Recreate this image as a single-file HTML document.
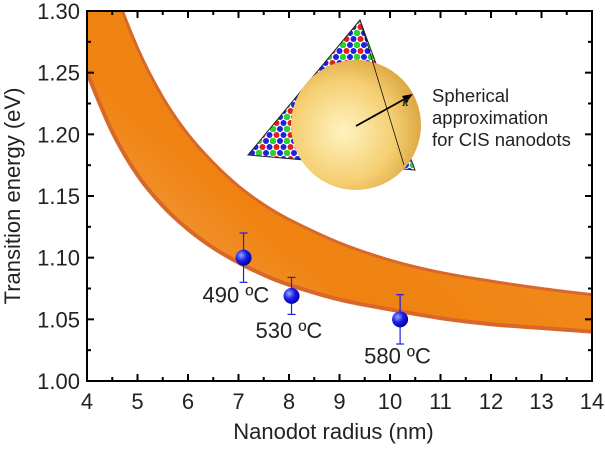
<!DOCTYPE html>
<html><head><meta charset="utf-8"><style>
body{margin:0;background:#fff}
svg text{font-family:"Liberation Sans",sans-serif;fill:#222}
</style></head><body>
<svg id="c" width="605" height="444" viewBox="0 0 605 444">
<defs>
<linearGradient id="bg" x1="0" y1="1" x2="1" y2="0">
<stop offset="0" stop-color="#f5b06a"/><stop offset="0.3" stop-color="#ef8210"/><stop offset="0.6" stop-color="#f08a1c"/><stop offset="1" stop-color="#f6b36a"/>
</linearGradient>
<radialGradient id="sph" cx="0.4" cy="0.55" r="0.65">
<stop offset="0" stop-color="#fff3c0"/><stop offset="0.6" stop-color="#f5cf72"/><stop offset="1" stop-color="#d8a03a"/>
</radialGradient>
<radialGradient id="pt" cx="0.35" cy="0.35" r="0.7">
<stop offset="0" stop-color="#9aa8ff"/><stop offset="0.5" stop-color="#1a1ee8"/><stop offset="1" stop-color="#0000a0"/>
</radialGradient>
<clipPath id="pc"><rect x="87" y="11" width="505" height="370"/></clipPath>
<pattern id="atoms" width="14" height="12" patternUnits="userSpaceOnUse">
<circle cx="3.5" cy="3" r="3" fill="#2020e0"/><circle cx="10.5" cy="3" r="3" fill="#e02020"/>
<circle cx="7" cy="9" r="3.3" fill="#30d030"/><circle cx="0" cy="9" r="3" fill="#2020e0"/><circle cx="14" cy="9" r="3" fill="#2020e0"/>
</pattern>
</defs>
<g id="plot" clip-path="url(#pc)"></g>
<g id="inset">
<polygon points="360,20 248,155 415,170" fill="url(#atoms)" stroke="#222" stroke-width="1"/>
<circle cx="356" cy="125" r="65" fill="url(#sph)"/>
<line x1="360" y1="20" x2="404" y2="165" stroke="#111" stroke-width="0.8"/>
<line x1="356" y1="126" x2="410" y2="96" stroke="#000" stroke-width="1.8"/>
<polygon points="413,94 402,96 406,103" fill="#000"/>
<text x="402" y="106" font-size="10" font-style="italic" font-weight="bold" style="font-family:'Liberation Serif',serif">R</text>
</g>
<text x="432" y="102" font-size="18.5">Spherical</text>
<text x="432" y="124" font-size="18.5">approximation</text>
<text x="432" y="146" font-size="18.5">for CIS nanodots</text>
<g id="axes"></g>
</svg>
<script>
const radii=[4,4.5,5,5.5,6,6.5,7,7.5,8,9,10,11,12,13,14];
const lowerE=[1.250,1.202,1.167,1.142,1.123,1.108,1.096,1.086,1.078,1.066,1.058,1.051,1.046,1.043,1.040];
const upperE=[1.399,1.324,1.270,1.230,1.200,1.177,1.158,1.143,1.131,1.112,1.098,1.088,1.081,1.075,1.070];
const ptR=[7.1,8.05,10.2];
const ptE=[1.100,1.069,1.050];
const ptErr=[0.020,0.015,0.020];
const ptLabels=["490 ºC","530 ºC","580 ºC"];
const xTicks=[4,5,6,7,8,9,10,11,12,13,14];
const yTicks=[1.00,1.05,1.10,1.15,1.20,1.25,1.30];
const X0=87,X1=592,Y0=381,Y1=11;
const sx=v=>X0+(v-4)/(14-4)*(X1-X0);
const sy=v=>Y0-(v-1.0)/(1.30-1.0)*(Y0-Y1);
const NS="http://www.w3.org/2000/svg";
function mk(t,a,p){const e=document.createElementNS(NS,t);for(const k in a)e.setAttribute(k,a[k]);p.appendChild(e);return e;}
function smooth(xs,ys){
  const P=xs.map((x,i)=>[sx(x),sy(ys[i])]);let d="M"+P[0].join(",");
  for(let i=0;i<P.length-1;i++){const p0=P[i-1]||P[i],p1=P[i],p2=P[i+1],p3=P[i+2]||P[i+1];
    d+=" C"+(p1[0]+(p2[0]-p0[0])/6)+","+(p1[1]+(p2[1]-p0[1])/6)+" "+(p2[0]-(p3[0]-p1[0])/6)+","+(p2[1]-(p3[1]-p1[1])/6)+" "+p2[0]+","+p2[1];}
  return d;}
const plot=document.getElementById('plot');
const up=smooth(radii,upperE),lo=smooth(radii,lowerE);
const loRev=smooth(radii.slice().reverse(),lowerE.slice().reverse());
const band=mk('path',{d:up+" L"+sx(14)+","+sy(lowerE[lowerE.length-1])+loRev.replace(/^M[^ ]+/,"")+"Z",fill:"url(#bg)"},plot);


const ul=mk('path',{d:up,fill:"none",stroke:"#d8682a","stroke-width":3},plot);


const ll=mk('path',{d:lo,fill:"none",stroke:"#d8682a","stroke-width":4},plot);


const svg=document.getElementById('c');
const lblOff=[[-41,45],[-36,42],[-36,44]];
ptR.forEach((r,i)=>{
  const g=mk('g',{},svg);
  
  
  const x=sx(r),y=sy(ptE[i]),yt=sy(ptE[i]+ptErr[i]),yb=sy(ptE[i]-ptErr[i]);
  mk('line',{x1:x,y1:yt,x2:x,y2:yb,stroke:"#2020e0","stroke-width":1.2},g);
  mk('line',{x1:x-4,y1:yt,x2:x+4,y2:yt,stroke:"#2020e0","stroke-width":1.2},g);
  mk('line',{x1:x-4,y1:yb,x2:x+4,y2:yb,stroke:"#2020e0","stroke-width":1.2},g);
  mk('circle',{cx:x,cy:y,r:8,fill:"url(#pt)"},g);
  const t=mk('text',{x:x+lblOff[i][0],y:y+lblOff[i][1],"font-size":22},svg);
  
  
  t.textContent=ptLabels[i];
});
const ax=document.getElementById('axes');
const fr=mk('rect',{x:X0,y:Y1,width:X1-X0,height:Y0-Y1,fill:"none",stroke:"#000","stroke-width":2},ax);


xTicks.forEach((v,i)=>{const x=sx(v);
  mk('line',{x1:x,y1:Y0,x2:x,y2:Y0-7,stroke:"#000","stroke-width":2},ax);
  mk('line',{x1:x,y1:Y1,x2:x,y2:Y1+7,stroke:"#000","stroke-width":2},ax);
  if(i<xTicks.length-1){const xm=sx(v+0.5);
    mk('line',{x1:xm,y1:Y0,x2:xm,y2:Y0-4,stroke:"#000","stroke-width":2},ax);
    mk('line',{x1:xm,y1:Y1,x2:xm,y2:Y1+4,stroke:"#000","stroke-width":2},ax);}
  const t=mk('text',{x:x,y:Y0+28,"font-size":22,"text-anchor":"middle"},ax);
  
  
  t.textContent=v;});
yTicks.forEach((v,i)=>{const y=sy(v);
  mk('line',{x1:X0,y1:y,x2:X0+7,y2:y,stroke:"#000","stroke-width":2},ax);
  mk('line',{x1:X1,y1:y,x2:X1-7,y2:y,stroke:"#000","stroke-width":2},ax);
  if(i<yTicks.length-1){const ym=sy(v+0.025);
    mk('line',{x1:X0,y1:ym,x2:X0+4,y2:ym,stroke:"#000","stroke-width":2},ax);
    mk('line',{x1:X1,y1:ym,x2:X1-4,y2:ym,stroke:"#000","stroke-width":2},ax);}
  const t=mk('text',{x:X0-7,y:y+8,"font-size":22,"text-anchor":"end"},ax);
  
  
  t.textContent=v.toFixed(2);});
const xt=mk('text',{x:(X0+X1)/2-6,y:439,"font-size":22,"text-anchor":"middle"},ax);


xt.textContent="Nanodot radius (nm)";
const yt=mk('text',{x:0,y:0,"font-size":22,"text-anchor":"middle",transform:"translate(20,"+((Y0+Y1)/2)+") rotate(-90)"},ax);


yt.textContent="Transition energy (eV)";
</script>
</body></html>
